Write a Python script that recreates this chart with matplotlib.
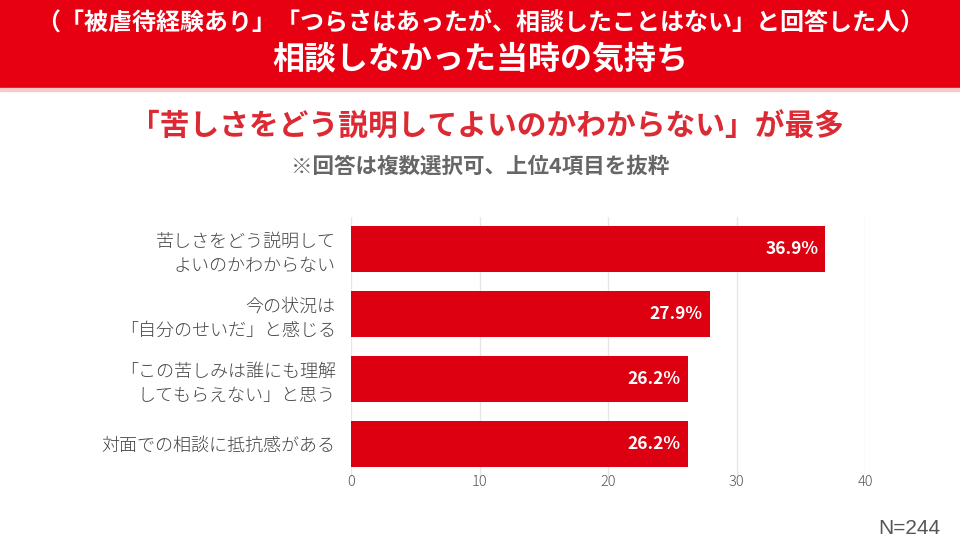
import matplotlib.pyplot as plt

plt.rcParams['font.family'] = ['Noto Sans CJK JP', 'DejaVu Sans']

# データ
categories = ['苦しさをどう説明して\nよいのかわからない',
              '今の状況は\n「自分のせいだ」と感じる',
              '「この苦しみは誰にも理解\nしてもらえない」と思う',
              '対面での相談に抵抗感がある']
values = [36.9, 27.9, 26.2, 26.2]
xticks = [0, 10, 20, 30, 40]

header1 = '（「被虐待経験あり」「つらさはあったが、相談したことはない」と回答した人）'
header2 = '相談しなかった当時の気持ち'
subtitle = '「苦しさをどう説明してよいのかわからない」が最多'
note = '※回答は複数選択可、上位4項目を抜粋'
n_text = 'N=244'

red = '#E60012'
bar_red = '#DC0011'

fig = plt.figure(figsize=(9.6, 5.4), dpi=100)

# ヘッダー帯
fig.patches.append(plt.Rectangle((0, 1 - 88 / 540), 1, 88 / 540,
                                 transform=fig.transFigure, color=red, zorder=0))
fig.patches.append(plt.Rectangle((0, 1 - 91 / 540), 1, 3 / 540,
                                 transform=fig.transFigure, color='#F6C9CC', zorder=0))
fig.text(0.5, 1 - 23 / 540, header1, color='white', fontsize=17.3, fontweight='bold',
         ha='center', va='center')
fig.text(0.5, 1 - 60 / 540, header2, color='white', fontsize=23, fontweight='bold',
         ha='center', va='center')

fig.text(0.507, 1 - 127 / 540, subtitle, color='#DB2A33', fontsize=21.4, fontweight='bold',
         ha='center', va='center')
fig.text(0.5, 1 - 166 / 540, note, color='#666666', fontsize=15.5, fontweight='bold',
         ha='center', va='center')

# グラフ
ax = fig.add_axes([351 / 960, 1 - 476.5 / 540, 514 / 960, 260 / 540])
ypos = list(range(len(categories)))
ax.barh(ypos, values, height=0.71, color=bar_red, zorder=2)
for y, v in zip(ypos, values):
    ax.annotate(f'{v:.1f}%', (v, y), xytext=(-5, 0), textcoords='offset points',
                ha='right', va='center', color='white', fontsize=12.5, fontweight='bold')

ax.set_xlim(0, 40)
ax.set_ylim(3.5, -0.5)
ax.set_xticks(xticks)
ax.set_xticklabels([str(t) for t in xticks], color='#555555', fontsize=10.5,
                   fontweight='light')
ax.set_yticks(ypos)
ax.set_yticklabels(categories, color='#444444', fontsize=13, linespacing=1.45,
                   fontweight='light')
ax.tick_params(axis='both', length=0)
ax.tick_params(axis='y', pad=11)
ax.tick_params(axis='x', pad=-1)
for s in ax.spines.values():
    s.set_visible(False)
ax.grid(axis='x', color='#E6E6E6', linewidth=1, zorder=0)
ax.set_axisbelow(True)

fig.text(940 / 960, 1 - 528 / 540, n_text, color='#555555', fontsize=15,
         family=['Liberation Sans', 'DejaVu Sans'], ha='right', va='center')

fig.savefig('out.png', dpi=100)
